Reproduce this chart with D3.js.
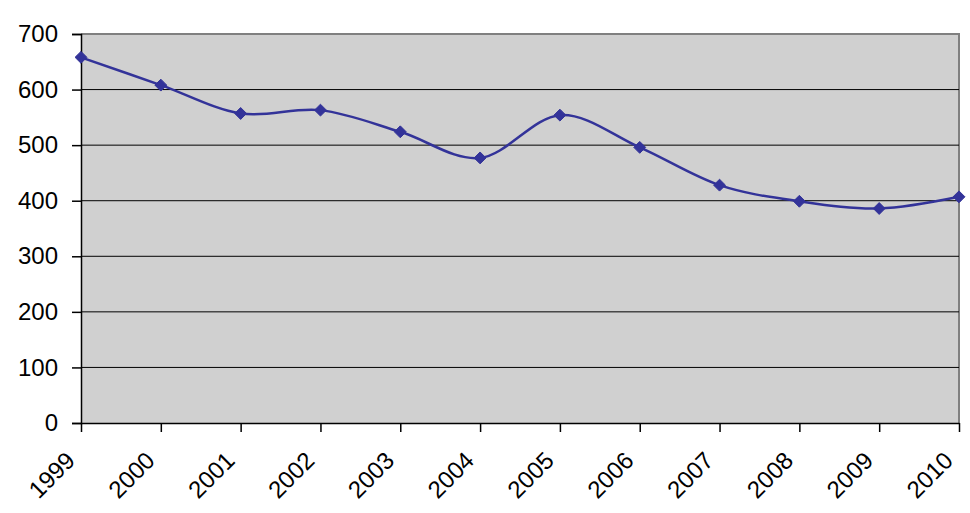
<!DOCTYPE html>
<html>
<head>
<meta charset="utf-8">
<script src="https://cdn.jsdelivr.net/npm/d3@7"></script>
<style>
  body { margin: 0; background: #ffffff; }
</style>
</head>
<body>
<div id="chart"></div>
<script>
var years = ["1999", "2000", "2001", "2002", "2003", "2004", "2005", "2006", "2007", "2008", "2009", "2010"];
var values = [658, 608, 557, 563, 524, 477, 554, 496, 428, 399, 386, 407];
var yTicks = [0, 100, 200, 300, 400, 500, 600, 700];

var width = 970, height = 513;
var margin = { top: 34, right: 11, bottom: 90, left: 81 };
var plotW = width - margin.left - margin.right;
var plotH = height - margin.top - margin.bottom;

var lineColor = "#333399", plotBg = "#d0d0d0";
var labelFont = "Liberation Sans, Arial, sans-serif";

var svg = d3.select("#chart")
    .append("svg")
    .attr("width", width)
    .attr("height", height);

var g = svg.append("g")
    .attr("transform", "translate(" + margin.left + "," + margin.top + ")");

var x = d3.scalePoint()
    .domain(years)
    .range([0, plotW]);

var y = d3.scaleLinear()
    .domain([0, 700])
    .range([plotH, 0]);

// plot area
g.append("rect")
    .attr("x", 0)
    .attr("y", 0)
    .attr("width", plotW)
    .attr("height", plotH)
    .attr("fill", plotBg);

// top and right border
g.append("path")
    .attr("d", "M0,0H" + plotW + "V" + plotH)
    .attr("fill", "none")
    .attr("stroke", "#808080")
    .attr("stroke-width", 2);

// gridlines
g.selectAll("line.grid")
    .data(yTicks.filter(function (d) { return d > 0 && d < 700; }))
    .enter()
    .append("line")
    .attr("class", "grid")
    .attr("x1", 0)
    .attr("x2", plotW)
    .attr("y1", function (d) { return y(d); })
    .attr("y2", function (d) { return y(d); })
    .attr("stroke", "#000000")
    .attr("stroke-width", 1);

// y axis
var yAxis = g.append("g")
    .call(d3.axisLeft(y).tickValues(yTicks).tickSize(9).tickPadding(14));
yAxis.select(".domain").attr("stroke", "#000000").attr("stroke-width", 1.5);
yAxis.selectAll(".tick line").attr("stroke", "#000000").attr("stroke-width", 1.5);
yAxis.selectAll("text")
    .attr("font-family", labelFont)
    .attr("font-size", "24px")
    .attr("fill", "#000000");

// x axis
var xAxis = g.append("g")
    .attr("transform", "translate(0," + plotH + ")")
    .call(d3.axisBottom(x).tickSize(9).tickSizeOuter(0));
xAxis.select(".domain").attr("stroke", "#000000").attr("stroke-width", 1.5);
xAxis.selectAll(".tick line").attr("stroke", "#000000").attr("stroke-width", 1.5);
xAxis.selectAll("text")
    .attr("font-family", labelFont)
    .attr("font-size", "24px")
    .attr("fill", "#000000")
    .attr("text-anchor", "end")
    .attr("dy", "0.35em")
    .attr("transform", "translate(-11,33) rotate(-45)")
    .attr("y", 0)
    .attr("x", 0);

// smoothed line
var line = d3.line()
    .x(function (d, i) { return x(years[i]); })
    .y(function (d) { return y(d); })
    .curve(d3.curveCardinal.tension(0));

g.append("path")
    .datum(values)
    .attr("d", line)
    .attr("fill", "none")
    .attr("stroke", lineColor)
    .attr("stroke-width", 2.5);

// diamond markers
var diamond = d3.symbol().type(d3.symbolDiamond2).size(90);
g.selectAll("path.marker")
    .data(values)
    .enter()
    .append("path")
    .attr("class", "marker")
    .attr("d", diamond)
    .attr("transform", function (d, i) {
        return "translate(" + x(years[i]) + "," + y(d) + ")";
    })
    .attr("fill", lineColor)
    .attr("stroke", lineColor)
    .attr("stroke-width", 1);
</script>
</body>
</html>
